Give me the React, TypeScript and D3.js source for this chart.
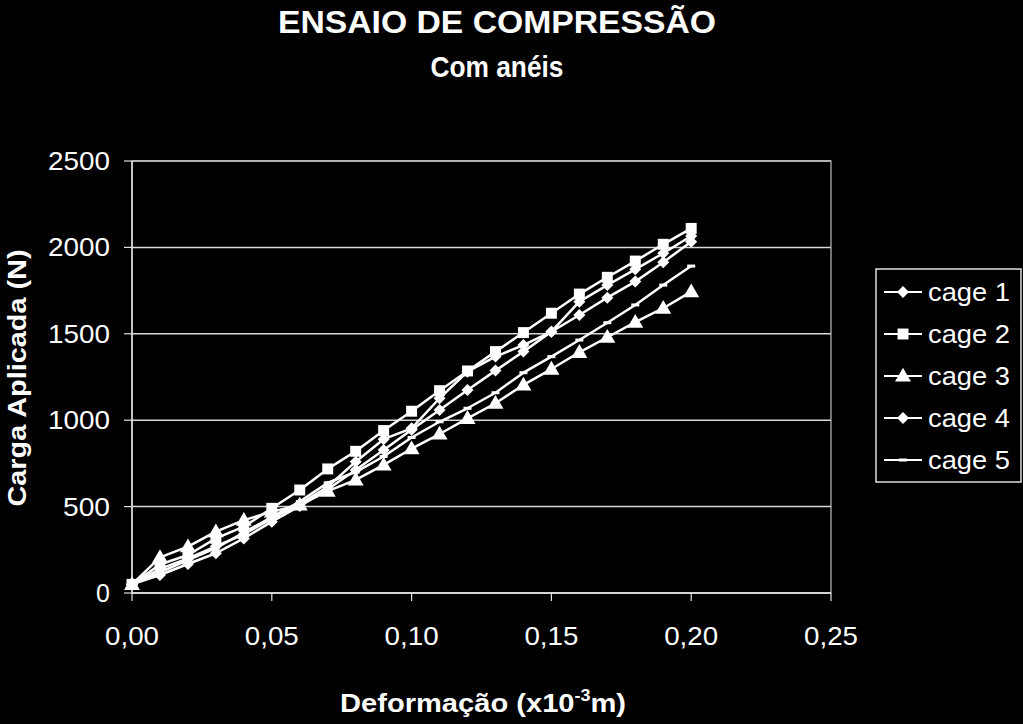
import React, { useEffect } from "react";
import * as d3 from "d3";

const deformation = [0, 0.01, 0.02, 0.03, 0.04, 0.05, 0.06, 0.07, 0.08, 0.09, 0.1, 0.11, 0.12, 0.13, 0.14, 0.15, 0.16, 0.17, 0.18, 0.19, 0.2];

const cage1 = [50, 140, 200, 270, 340, 430, 515, 615, 760, 890, 953, 1127, 1281, 1368, 1435, 1512, 1686, 1782, 1873, 1966, 2066];
const cage2 = [50, 165, 220, 316, 384, 490, 596, 718, 820, 940, 1052, 1171, 1285, 1397, 1507, 1619, 1730, 1827, 1921, 2018, 2110];
const cage3 = [50, 206, 268, 355, 422, 470, 510, 590, 655, 741, 835, 920, 1011, 1098, 1204, 1296, 1393, 1480, 1567, 1648, 1744];
const cage4 = [50, 104, 168, 230, 316, 413, 503, 600, 712, 828, 945, 1059, 1175, 1287, 1397, 1512, 1609, 1709, 1802, 1914, 2033];
const cage5 = [50, 120, 191, 260, 350, 440, 529, 638, 700, 790, 900, 991, 1069, 1159, 1275, 1368, 1464, 1564, 1667, 1782, 1892];

const seriesNames = ["cage 1", "cage 2", "cage 3", "cage 4", "cage 5"];
const seriesValues = [cage1, cage2, cage3, cage4, cage5];
const seriesMarkers = ["diamond", "square", "triangle", "diamond", "dash"];

const yTicks = [0, 500, 1000, 1500, 2000, 2500];
const xTicks = [0, 0.05, 0.1, 0.15, 0.2, 0.25];

const W = 1023;
const H = 724;
const plot = { left: 132, right: 831, top: 161, bottom: 593 };

const FONT = "'Liberation Sans', Arial, Helvetica, sans-serif";

function Marker({ type, x, y }: { type: string; x: number; y: number }) {
  if (type === "square") {
    return <path d={d3.symbol(d3.symbolSquare, 120)()!} transform={`translate(${x},${y})`} fill="#fff" />;
  }
  if (type === "diamond") {
    return <path d={d3.symbol(d3.symbolSquare, 72)()!} transform={`translate(${x},${y}) rotate(45)`} fill="#fff" />;
  }
  if (type === "triangle") {
    return <path d={d3.symbol(d3.symbolTriangle, 110)()!} transform={`translate(${x},${y + 1})`} fill="#fff" />;
  }
  return <rect x={x - 4} y={y - 1.5} width={8} height={3} fill="#fff" />;
}

export default function App() {
  useEffect(() => {
    document.body.style.margin = "0";
    document.body.style.background = "#000";
  }, []);

  const x = d3.scaleLinear().domain([0, 0.25]).range([plot.left, plot.right]);
  const y = d3.scaleLinear().domain([0, 2500]).range([plot.bottom, plot.top]);
  const line = d3
    .line<number>()
    .x((_, i) => x(deformation[i]))
    .y((d) => y(d));

  const legendX = 876;
  const legendY = 269;
  const legendW = 145;
  const legendH = 213;
  const rowY = (i: number) => 292 + i * 42;

  return (
    <svg width={W} height={H} style={{ display: "block", background: "#000" }} fontFamily={FONT}>
      <rect x={0} y={0} width={W} height={H} fill="#000" />
      {/* title */}
      <text x={497} y={33} textAnchor="middle" fill="#fff" fontSize={31} fontWeight="bold" textLength={438} lengthAdjust="spacingAndGlyphs">
        ENSAIO DE COMPRESSÃO
      </text>
      <text x={497} y={77} textAnchor="middle" fill="#fff" fontSize={30} fontWeight="bold" textLength={133} lengthAdjust="spacingAndGlyphs">
        Com anéis
      </text>

      {/* gridlines */}
      {yTicks.map((t) => (
        <line key={"g" + t} x1={plot.left} x2={plot.right} y1={y(t)} y2={y(t)} stroke="#d8d8d8" strokeWidth={1.5} />
      ))}
      <rect x={plot.left} y={plot.top} width={plot.right - plot.left} height={plot.bottom - plot.top} fill="none" stroke="#bbb" strokeWidth={1.2} />

      {/* axes */}
      <line x1={plot.left} x2={plot.left} y1={plot.top} y2={plot.bottom} stroke="#e0e0e0" strokeWidth={1.5} />
      <line x1={plot.left} x2={plot.right} y1={plot.bottom} y2={plot.bottom} stroke="#e0e0e0" strokeWidth={1.5} />
      {yTicks.map((t) => (
        <g key={"yt" + t}>
          <line x1={plot.left - 8} x2={plot.left} y1={y(t)} y2={y(t)} stroke="#e0e0e0" strokeWidth={1.2} />
          <text x={110} y={y(t)} dy="0.36em" textAnchor="end" fill="#fff" fontSize={25} textLength={t === 0 ? undefined : t >= 1000 ? 62 : 47} lengthAdjust="spacingAndGlyphs">
            {t}
          </text>
        </g>
      ))}
      {xTicks.map((t) => (
        <g key={"xt" + t}>
          <line x1={x(t)} x2={x(t)} y1={plot.bottom} y2={plot.bottom + 8} stroke="#e0e0e0" strokeWidth={1.2} />
          <text x={x(t)} y={645} textAnchor="middle" fill="#fff" fontSize={25} textLength={54} lengthAdjust="spacingAndGlyphs">
            {t.toFixed(2).replace(".", ",")}
          </text>
        </g>
      ))}

      {/* axis titles */}
      <text x={483} y={712} textAnchor="middle" fill="#fff" fontSize={26} fontWeight="bold" textLength={286} lengthAdjust="spacingAndGlyphs">
        Deformação (x10<tspan dy={-11} fontSize={16}>-3</tspan><tspan dy={11}>m)</tspan>
      </text>
      <text transform={`translate(26,378) rotate(-90)`} textAnchor="middle" fill="#fff" fontSize={25} fontWeight="bold" textLength={257} lengthAdjust="spacingAndGlyphs">
        Carga Aplicada (N)
      </text>

      {/* series */}
      {seriesValues.map((vals, si) => (
        <g key={"s" + si}>
          <path d={line(vals)!} fill="none" stroke="#fff" strokeWidth={2.5} strokeLinejoin="round" />
          {vals.map((v, i) => (
            <Marker key={i} type={seriesMarkers[si]} x={x(deformation[i])} y={y(v)} />
          ))}
        </g>
      ))}

      {/* legend */}
      <rect x={legendX} y={legendY} width={legendW} height={legendH} fill="#000" stroke="#ddd" strokeWidth={1.5} />
      {seriesNames.map((n, i) => (
        <g key={"l" + i}>
          <line x1={884} x2={922} y1={rowY(i)} y2={rowY(i)} stroke="#fff" strokeWidth={2} />
          <Marker type={seriesMarkers[i]} x={903} y={rowY(i)} />
          <text x={928} y={rowY(i)} dy="0.36em" fill="#fff" fontSize={26} textLength={82} lengthAdjust="spacingAndGlyphs">
            {n}
          </text>
        </g>
      ))}
    </svg>
  );
}
